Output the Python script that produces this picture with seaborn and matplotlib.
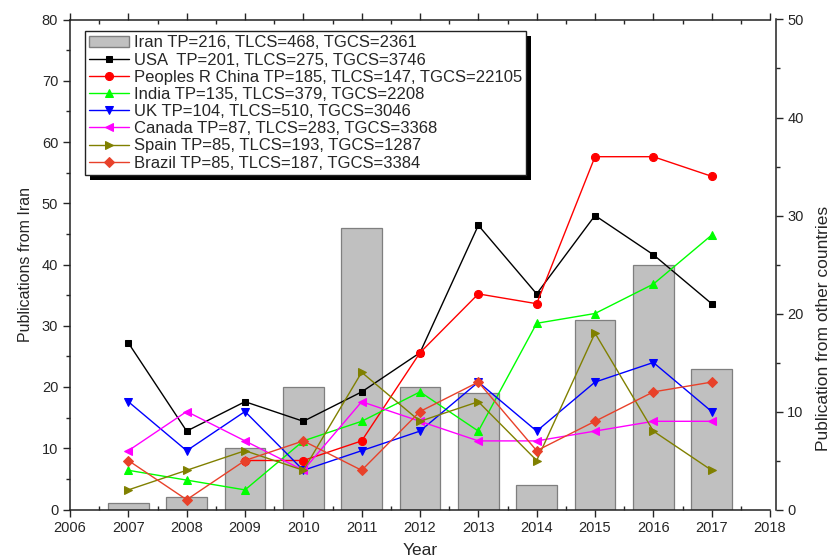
import matplotlib
matplotlib.use("Agg")
import matplotlib.pyplot as plt
from matplotlib.patches import Patch, Rectangle
from matplotlib.transforms import IdentityTransform
from matplotlib.ticker import MultipleLocator
import numpy as np
import pandas as pd
import seaborn as sns

years = [2007, 2008, 2009, 2010, 2011, 2012, 2013, 2014, 2015, 2016, 2017]
iran = [1, 2, 10, 20, 46, 20, 19, 4, 31, 40, 23]
usa = [17, 8, 11, 9, 12, 16, 29, 22, 30, 26, 21]
china = [np.nan, np.nan, 5, 5, 7, 16, 22, 21, 36, 36, 34]
india = [4, 3, 2, 7, 9, 12, 8, 19, 20, 23, 28]
uk = [11, 6, 10, 4, 6, 8, 13, 8, 13, 15, 10]
canada = [6, 10, 7, 4, 11, 9, 7, 7, 8, 9, 9]
spain = [2, 4, 6, 4, 14, 9, 11, 5, 18, 8, 4]
brazil = [5, 1, 5, 7, 4, 10, 13, 6, 9, 12, 13]

iran_label = "Iran TP=216, TLCS=468, TGCS=2361"
series = [
    ("USA  TP=201, TLCS=275, TGCS=3746", usa, "black", "s", 5),
    ("Peoples R China TP=185, TLCS=147, TGCS=22105", china, "#FF0000", "o", 5.8),
    ("India TP=135, TLCS=379, TGCS=2208", india, "#00FF00", "^", 6.3),
    ("UK TP=104, TLCS=510, TGCS=3046", uk, "#0000FF", "v", 6.3),
    ("Canada TP=87, TLCS=283, TGCS=3368", canada, "#FF00FF", "<", 6.3),
    ("Spain TP=85, TLCS=193, TGCS=1287", spain, "#808000", ">", 6.3),
    ("Brazil TP=85, TLCS=187, TGCS=3384", brazil, "#E8412A", "D", 5),
]

sns.set_style("ticks")
plt.rcParams["font.family"] = ["Liberation Sans", "DejaVu Sans"]

fig = plt.figure(figsize=(8.35, 5.59), dpi=100)
ax = fig.add_axes([70 / 835, 1 - 509.5 / 559, 700 / 835, 490 / 559])
ax2 = ax.twinx()

sns.barplot(x=years, y=iran, native_scale=True, width=0.7, color="#C0C0C0",
            saturation=1, edgecolor="#7F7F7F", linewidth=0.9, ax=ax)

for label, vals, col, mk, ms in series:
    df = pd.DataFrame({"year": years, "v": vals})
    sns.lineplot(data=df, x="year", y="v", ax=ax2, color=col, marker=mk,
                 markersize=ms, markeredgecolor=col, linewidth=1.0, label=label)

ax.set_xlim(2006, 2018)
ax.set_ylim(0, 80)
ax2.set_ylim(0, 50)
ax.set_xticks(range(2006, 2019))
ax.set_xticklabels([str(y) for y in range(2006, 2019)])
ax.xaxis.set_minor_locator(MultipleLocator(0.5))
ax.yaxis.set_major_locator(MultipleLocator(10))
ax.yaxis.set_minor_locator(MultipleLocator(5))
ax2.yaxis.set_major_locator(MultipleLocator(10))
ax2.yaxis.set_minor_locator(MultipleLocator(5))

for a in (ax, ax2):
    for s in a.spines.values():
        s.set_linewidth(1.1)
        s.set_color("#222222")
ax.spines["right"].set_visible(False)
ax2.spines["left"].set_visible(False)
ax2.spines["top"].set_visible(False)
ax2.spines["bottom"].set_visible(False)
ax2.spines["right"].set_position(("outward", 4))

ax.tick_params(axis="x", which="major", direction="out", length=5, width=1,
               top=True, labelsize=10.5, pad=3)
ax.tick_params(axis="x", which="minor", direction="in", length=3, width=1, top=True)
ax.tick_params(axis="y", which="major", direction="out", length=5, width=1, labelsize=10.5)
ax.tick_params(axis="y", which="minor", direction="out", length=3, width=1)
ax2.tick_params(axis="y", which="major", direction="out", length=5, width=1, labelsize=10.5)
ax2.tick_params(axis="y", which="minor", direction="out", length=3, width=1)

ax.set_xlabel("Year", fontsize=12.5, labelpad=6)
ax.set_ylabel("Publications from Iran", fontsize=11.5, labelpad=6)
ax2.set_ylabel("Publication from other countries", fontsize=12.5)
ax2.yaxis.set_label_coords(1.066, 0.37)

h2, l2 = ax2.get_legend_handles_labels()
leg = ax2.legend([Patch(facecolor="#C0C0C0", edgecolor="#7F7F7F")] + h2, [iran_label] + l2,
                 loc="upper left", bbox_to_anchor=(0.021, 0.976), borderaxespad=0,
                 fontsize=12, frameon=True, fancybox=False, edgecolor="#222222",
                 framealpha=1, shadow=False,
                 handlelength=2.4, handletextpad=0.3, labelspacing=0.13, borderpad=0.25)
leg.get_frame().set_linewidth(1.0)
leg.set_zorder(10)

fig.canvas.draw()
bb = leg.get_window_extent()
shadow = Rectangle((bb.x0 + 5, bb.y0 - 5), bb.width, bb.height, transform=IdentityTransform(),
                   facecolor="black", edgecolor="none", zorder=9)
ax2.add_artist(shadow)

fig.savefig("out.png", dpi=100)
